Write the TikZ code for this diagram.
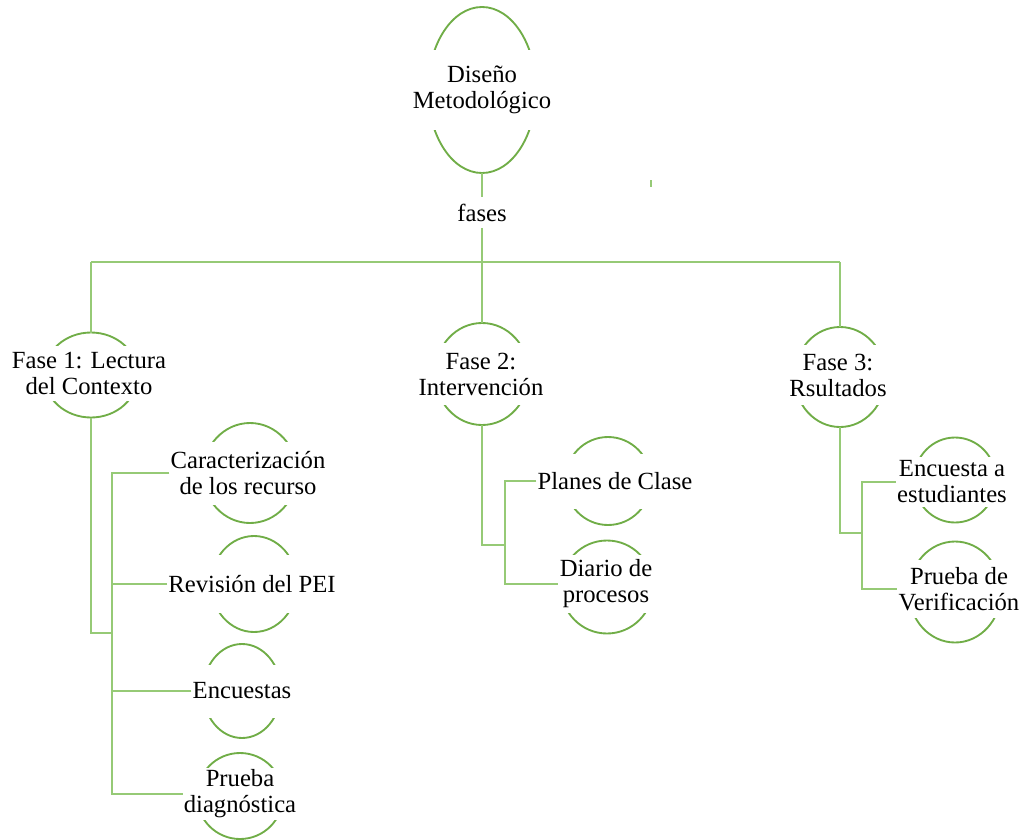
\documentclass[tikz,border=0pt]{standalone}
\usepackage{fontspec}
\setmainfont{Liberation Serif}
\usetikzlibrary{shapes.geometric}
\definecolor{ellc}{RGB}{112,173,71}
\definecolor{linec}{RGB}{150,202,118}
\begin{document}
\begin{tikzpicture}[x=0.75pt,y=-0.75pt,
  ell/.style={ellipse, draw=ellc, line width=1.4pt, inner sep=0pt, outer sep=0pt},
  txt/.style={fill=white, align=center, inner xsep=1pt, inner ysep=0pt, outer sep=0pt,
              font=\fontsize{18.5}{19.5}\selectfont},
  conn/.style={draw=linec, line width=2pt}]
\useasboundingbox (0,0) rectangle (1021,839);

% ellipses
\node[ell, minimum width=81pt,   minimum height=124.5pt] (d)   at (482,90)  {};
\node[ell, minimum width=70.5pt, minimum height=63.75pt] (f1)  at (91,375)  {};
\node[ell, minimum width=70.5pt, minimum height=76.5pt]  (f2)  at (482,374) {};
\node[ell, minimum width=68.25pt,minimum height=75pt]    (f3)  at (840,377) {};
\node[ell, minimum width=70.5pt, minimum height=75pt]    (car) at (250,473) {};
\node[ell, minimum width=64.5pt, minimum height=72pt]    (rev) at (254,584) {};
\node[ell, minimum width=58.5pt, minimum height=70.5pt]  (enc) at (242,691) {};
\node[ell, minimum width=64.5pt, minimum height=64.5pt]  (pru) at (240,796) {};
\node[ell, minimum width=64.5pt, minimum height=66pt]    (pla) at (608,481) {};
\node[ell, minimum width=69pt,   minimum height=69.75pt] (dia) at (607,587) {};
\node[ell, minimum width=61.5pt, minimum height=63.75pt] (ea)  at (955,480) {};
\node[ell, minimum width=69pt,   minimum height=75.75pt] (pv)  at (955,592) {};

% texts
\node[txt, minimum height=60pt]    (dt)   at (482,90)  {Diseño\\Metodológico};
\node[txt, minimum height=41.25pt] (f1t)  at (89,373)  {Fase 1: Lectura\\del Contexto};
\node[txt, minimum height=46.5pt]  (f2t)  at (481,374) {Fase 2:\\Intervención};
\node[txt, minimum height=45pt]    (f3t)  at (838,375) {Fase 3:\\Rsultados};
\node[txt, minimum height=47.25pt] (cart) at (248,473) {Caracterización\\de los recurso};
\node[txt, minimum height=43.5pt]  (revt) at (252,584) {Revisión del PEI};
\node[txt, minimum height=39.75pt] (enct) at (242,691) {Encuestas};
\node[txt, minimum height=39pt]    (prut) at (240,794) {Prueba\\diagnóstica};
\node[txt, minimum height=41.25pt] (plat) at (615,481) {Planes de Clase};
\node[txt, minimum height=43.5pt]  (diat) at (606,584) {Diario de\\procesos};
\node[txt, minimum height=37.5pt]  (eat)  at (952,482) {Encuesta a\\estudiantes};
\node[txt, minimum height=43.5pt]  (pvt)  at (959,589) {Prueba de\\Verificación};
\node[txt, minimum height=23pt]    (fa)   at (482,212.5) {fases};

% connectors
\coordinate (hub) at (482,262);
\coordinate (L) at (91,262);
\coordinate (R) at (840,262);
\draw[conn] (d.south) -- (fa.north);
\draw[conn] (fa.south) -- (hub);
\draw[conn] (L) -- (R);
\draw[conn] (hub) -- (f2.north);
\draw[conn] (L) -- (f1.north);
\draw[conn] (R) -- (f3.north);

\coordinate (j1) at (112,633);
\draw[conn] (f1.south) |- (j1);
\draw[conn] (cart.west) -| (j1 |- prut.west) -- (prut.west);
\draw[conn] (revt.west) -- (revt.west -| j1);
\draw[conn] (enct.west) -- (enct.west -| j1);

\coordinate (j2) at (505,545);
\draw[conn] (f2.south) |- (j2);
\draw[conn] (plat.west) -| (j2 |- diat.west) -- (diat.west);

\coordinate (j3) at (862,533);
\draw[conn] (f3.south) |- (j3);
\draw[conn] (eat.west) -| (j3 |- pvt.west) -- (pvt.west);

% stray mark
\draw[linec, line width=1.4pt] (651,180) -- (651,187);
\end{tikzpicture}
\end{document}
